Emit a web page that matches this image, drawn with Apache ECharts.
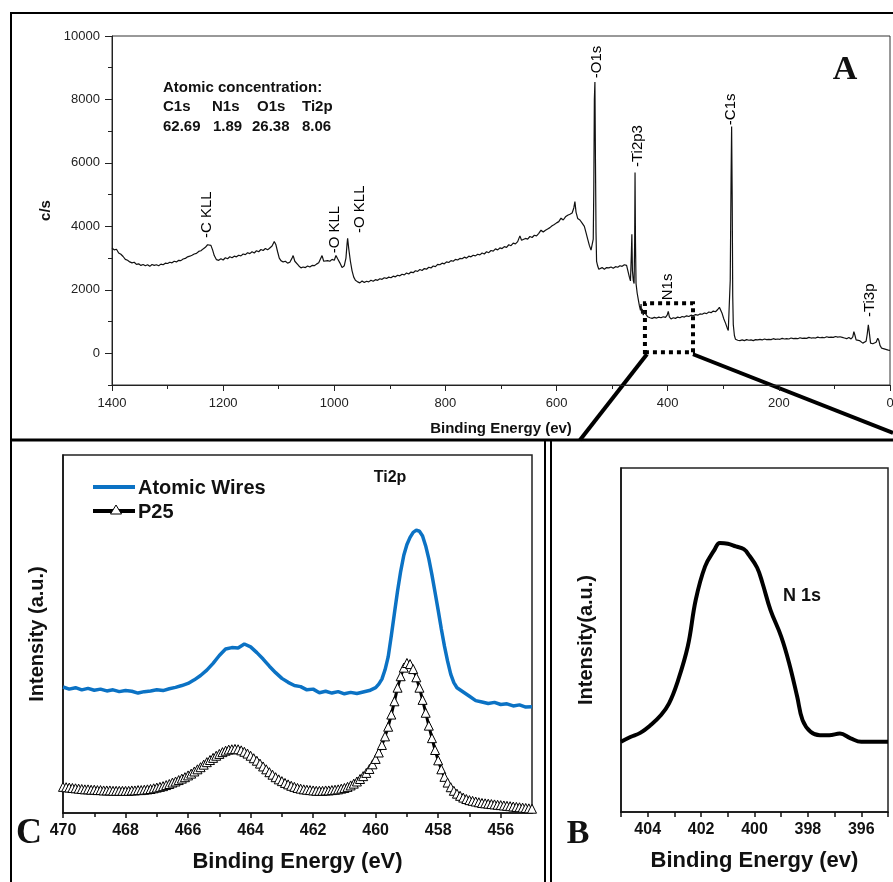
<!DOCTYPE html>
<html>
<head>
<meta charset="utf-8">
<script src="https://cdn.jsdelivr.net/npm/echarts@6/dist/echarts.min.js"></script>
<style>
	html, body { margin: 0; padding: 0; background: #fff; }
	#chart { width: 893px; height: 882px; }
</style>
</head>
<body>
<div id="chart"></div>
<script>
// survey spectrum (panel A) : [binding energy, c/s]
const surveyPoints = [
	[1400,3320],[1396,3260],[1392,3280],[1388,3160],[1384,3120],[1380,3050],[1376,2960],[1372,2930],[1368,2880],[1364,2850],
	[1360,2870],[1356,2800],[1352,2820],[1348,2770],[1344,2800],[1340,2760],[1336,2790],[1332,2740],[1328,2800],[1324,2770],
	[1320,2790],[1316,2760],[1312,2810],[1308,2790],[1304,2840],[1300,2830],[1296,2870],[1292,2850],[1288,2900],[1284,2880],
	[1280,2930],[1276,2920],[1272,2970],[1268,2990],[1264,3040],[1260,3060],[1256,3090],[1252,3130],[1248,3150],[1244,3210],
	[1240,3230],[1236,3290],[1232,3340],[1228,3420],[1225,3480],[1222,3400],[1219,3260],[1216,3080],[1212,2950],[1208,2930],
	[1204,2980],[1200,2940],[1196,3010],[1192,2980],[1188,3040],[1184,3010],[1180,3060],[1176,3040],[1172,3090],[1168,3070],
	[1164,3130],[1160,3110],[1156,3170],[1152,3140],[1148,3200],[1144,3160],[1140,3230],[1136,3200],[1132,3270],[1128,3240],
	[1124,3300],[1120,3260],[1116,3320],[1112,3380],[1108,3520],[1105,3420],[1102,3200],[1099,3000],[1096,2920],[1092,2880],
	[1088,2900],[1084,2840],[1080,2870],[1076,3000],[1074,3080],[1071,2900],[1068,2840],[1064,2760],[1060,2690],[1056,2720],
	[1052,2700],[1048,2750],[1044,2720],[1040,2770],[1036,2760],[1032,2810],[1028,2850],[1025,2830],[1022,3080],[1019,2900],
	[1016,2880],[1012,2920],[1008,2900],[1004,2960],[1000,2930],[997,3080],[994,2980],[990,2850],[986,2700],[982,2760],
	[979,3000],[977,3450],[976,3620],[974,3300],[971,2900],[968,2600],[965,2400],[962,2300],[958,2250],[954,2220],
	[950,2280],[946,2230],[942,2270],[938,2250],[934,2300],[930,2270],[926,2320],[922,2300],[918,2350],[914,2330],
	[910,2380],[906,2360],[902,2400],[898,2380],[894,2430],[890,2410],[886,2460],[882,2440],[878,2490],[874,2470],
	[870,2530],[866,2500],[862,2560],[858,2540],[854,2600],[850,2580],[846,2640],[842,2610],[838,2670],[834,2650],
	[830,2710],[826,2690],[822,2750],[818,2730],[814,2800],[810,2790],[806,2840],[802,2820],[798,2880],[794,2860],
	[790,2920],[786,2900],[782,2960],[778,2940],[774,2990],[770,2980],[766,3030],[762,3000],[758,3060],[754,3040],
	[750,3090],[746,3070],[742,3120],[738,3100],[734,3160],[730,3130],[726,3200],[722,3170],[718,3240],[714,3220],
	[710,3290],[706,3260],[702,3320],[698,3300],[694,3360],[690,3340],[686,3420],[682,3390],[678,3470],[674,3450],
	[670,3520],[666,3700],[663,3560],[660,3580],[656,3620],[652,3600],[648,3680],[644,3650],[640,3720],[636,3700],
	[632,3780],[628,3880],[624,3820],[620,3880],[616,3920],[612,3960],[608,4020],[604,4060],[600,4110],[596,4150],
	[592,4260],[588,4200],[584,4300],[580,4350],[576,4380],[572,4420],[569,4580],[567,4780],[565,4450],[562,4250],
	[558,4200],[554,4100],[550,4000],[547,3800],[544,3600],[541,3400],[538,3250],[536,3200],[534,3600],[533,5200],
	[532,8000],[531,8550],[530,6000],[529,3800],[528,2900],[526,2750],[524,2650],[522,2620],[518,2700],[514,2650],
	[510,2700],[506,2690],[502,2720],[498,2680],[494,2730],[490,2710],[486,2760],[482,2740],[478,2790],[474,2770],
	[471,2820],[469,2400],[467,2280],[465.5,3100],[464.5,3750],[463.5,2600],[462,2300],[460.5,2200],[459.5,3500],[458.8,5700],
	[458,3500],[457,2200],[455,1900],[453,1700],[451,1500],[449,1350],[448,1550],[447,1250],[446,1400],[444,1200],
	[442,1350],[440,1250],[436,1150],[432,1120],[428,1100],[424,1130],[420,1110],[416,1140],[412,1120],[408,1150],
	[404,1130],[401,1200],[399,1320],[397,1150],[394,1080],[390,1120],[386,1100],[382,1140],[378,1120],[374,1160],
	[370,1140],[366,1180],[362,1160],[358,1200],[354,1180],[350,1220],[346,1200],[342,1240],[338,1230],[334,1270],
	[330,1250],[326,1300],[322,1280],[318,1330],[314,1310],[310,1380],[307,1450],[305,1420],[302,1250],[299,1080],
	[296,950],[293,800],[291,720],[289,760],[287.5,2300],[286,5500],[285,7150],[284,5000],[283,1800],[282,900],
	[280,560],[278,440],[274,410],[270,400],[266,420],[262,400],[258,430],[254,410],[250,420],[246,400],
	[242,430],[238,420],[234,440],[230,420],[226,450],[222,430],[218,440],[214,430],[210,460],[206,440],
	[202,450],[198,440],[194,470],[190,450],[186,460],[182,450],[178,480],[174,460],[170,470],[166,460],
	[162,490],[158,470],[154,480],[150,470],[146,500],[142,480],[138,490],[134,480],[130,510],[126,490],
	[122,500],[118,490],[114,520],[110,500],[106,510],[102,500],[98,530],[94,510],[90,520],[86,500],
	[82,480],[78,460],[74,500],[70,450],[67,520],[65,680],[63,560],[61,420],[58,380],[55,400],
	[52,370],[49,320],[46,330],[43,380],[41,600],[39,900],[37,620],[35,320],[33,260],[31,300],
	[28,280],[25,350],[22,470],[20,400],[18,250],[15,160],[12,200],[9,130],[6,150],[3,100],[0,90]
];

// peak labels of panel A
const peakNames = ['-C KLL', '-O KLL', '-O KLL', '-O1s', '-Ti2p3', 'N1s', '-C1s', '-Ti3p'];
const peakBE = [1229, 999, 954, 527, 453, 400, 286, 36];
const peakCps = [3630, 3150, 3790, 8670, 5870, 1670, 7190, 1140];

// zoom box (panel A) : binding energy / c/s
const zoomBoxBE = [441, 354.5];
const zoomBoxCps = [32, 1577];

const surveyYLabels = [0, 2000, 4000, 6000, 8000, 10000];
const surveyYMinor = [-1000, 1000, 3000, 5000, 7000, 9000];

// Ti2p (panel C) : [binding energy, intensity]
const wiresPoints = [
	[470.0,35.2],[469.8,34.6],[469.6,35.0],[469.4,34.4],[469.2,34.8],[469.0,34.3],[468.8,34.6],[468.6,34.1],[468.4,34.4],[468.2,33.9],
	[468.0,34.2],[467.8,34.0],[467.6,33.5],[467.4,33.9],[467.2,34.1],[467.0,34.4],[466.8,34.2],[466.6,34.7],[466.4,35.1],[466.2,35.6],
	[466.0,36.2],[465.8,37.2],[465.6,38.4],[465.4,39.9],[465.2,41.8],[465.0,44.0],[464.8,45.8],[464.6,46.2],[464.4,46.1],[464.2,47.2],
	[464.0,46.4],[463.8,44.8],[463.6,43.0],[463.4,41.0],[463.2,39.2],[463.0,37.6],[462.8,36.5],[462.6,35.6],[462.4,35.3],[462.2,34.4],
	[462.0,34.6],[461.8,33.6],[461.6,34.0],[461.4,33.5],[461.2,33.9],[461.0,33.3],[460.8,33.7],[460.6,33.4],[460.4,33.8],[460.2,34.2],
	[460.0,35.0],[459.9,36.0],[459.8,37.4],[459.7,40.0],[459.6,43.6],[459.5,49.5],[459.4,55.8],[459.3,62.0],[459.2,67.5],[459.1,72.0],
	[459.0,75.0],[458.9,77.0],[458.8,78.4],[458.7,79.0],[458.6,78.7],[458.5,77.4],[458.4,74.6],[458.3,71.0],[458.2,66.5],[458.1,61.6],
	[458.0,56.6],[457.9,51.4],[457.8,46.6],[457.7,42.4],[457.6,38.8],[457.5,36.4],[457.4,35.0],[457.2,33.8],[457.0,32.6],[456.8,31.4],
	[456.6,31.0],[456.4,30.6],[456.2,30.9],[456.0,30.3],[455.8,30.5],[455.6,29.9],[455.4,30.2],[455.2,29.6],[455.0,29.7]
];
const p25Points = [
	[470.0,7.3],[469.9,7.2],[469.8,7.1],[469.7,7.0],[469.6,6.9],[469.5,6.8],[469.4,6.7],[469.3,6.6],[469.2,6.6],[469.1,6.5],
	[469.0,6.5],[468.9,6.4],[468.8,6.4],[468.7,6.3],[468.6,6.3],[468.5,6.3],[468.4,6.2],[468.3,6.2],[468.2,6.2],[468.1,6.2],
	[468.0,6.2],[467.9,6.2],[467.8,6.3],[467.7,6.3],[467.6,6.4],[467.5,6.4],[467.4,6.5],[467.3,6.6],[467.2,6.7],[467.1,6.9],
	[467.0,7.1],[466.9,7.3],[466.8,7.5],[466.7,7.8],[466.6,8.1],[466.5,8.5],[466.4,8.8],[466.3,9.2],[466.2,9.6],[466.1,10.0],
	[466.0,10.5],[465.9,11.0],[465.8,11.6],[465.7,12.2],[465.6,12.8],[465.5,13.5],[465.4,14.2],[465.3,14.8],[465.2,15.4],[465.1,16.0],
	[465.0,16.5],[464.9,17.0],[464.8,17.4],[464.7,17.7],[464.6,17.8],[464.5,17.9],[464.4,17.8],[464.3,17.5],[464.2,17.1],[464.1,16.6],
	[464.0,16.0],[463.9,15.3],[463.8,14.6],[463.7,13.8],[463.6,13.0],[463.5,12.2],[463.4,11.4],[463.3,10.7],[463.2,10.0],[463.1,9.4],
	[463.0,8.9],[462.9,8.4],[462.8,8.0],[462.7,7.6],[462.6,7.3],[462.5,7.0],[462.4,6.8],[462.3,6.6],[462.2,6.5],[462.1,6.4],
	[462.0,6.3],[461.9,6.2],[461.8,6.2],[461.7,6.2],[461.6,6.3],[461.5,6.3],[461.4,6.4],[461.3,6.5],[461.2,6.6],[461.1,6.8],
	[461.0,7.0],[460.9,7.3],[460.8,7.7],[460.7,8.2],[460.6,8.8],[460.5,9.5],[460.4,10.3],[460.3,11.2],[460.2,12.3],[460.1,13.6],
	[460.0,15.1],[459.9,16.9],[459.8,19.0],[459.7,21.4],[459.6,24.1],[459.5,27.5],[459.4,31.2],[459.3,35.0],[459.2,38.2],[459.1,40.6],
	[459.0,41.9],[458.9,41.6],[458.8,40.2],[458.7,37.9],[458.6,35.0],[458.5,31.6],[458.4,28.0],[458.3,24.4],[458.2,20.9],[458.1,17.6],
	[458.0,14.7],[457.9,12.2],[457.8,10.1],[457.7,8.5],[457.6,7.2],[457.5,6.2],[457.4,5.4],[457.3,4.8],[457.2,4.3],[457.1,3.9],
	[457.0,3.6],[456.9,3.4],[456.8,3.2],[456.7,3.0],[456.6,2.8],[456.5,2.7],[456.4,2.6],[456.3,2.5],[456.2,2.4],[456.1,2.3],
	[456.0,2.2],[455.9,2.1],[455.8,2.0],[455.7,1.9],[455.6,1.8],[455.5,1.7],[455.4,1.6],[455.3,1.5],[455.2,1.4],[455.1,1.3],
	[455.0,1.2]
];
const tiLabels = [456, 458, 460, 462, 464, 466, 468, 470];
const tiMinor = [457, 459, 461, 463, 465, 467, 469];

// N 1s (panel B) : [binding energy, intensity]
const n1sPoints = [
	[405.0,20.4],[404.65,21.8],[404.28,23.0],[403.9,25.2],[403.5,28.2],[403.2,31.6],[402.9,37.4],[402.5,48.1],[402.2,61.7],[401.85,71.4],
	[401.5,76.2],[401.3,78.2],[401.0,78.0],[400.7,77.2],[400.4,76.4],[400.2,74.6],[399.9,71.0],[399.7,66.5],[399.4,58.7],[399.0,51.0],
	[398.7,43.2],[398.4,33.5],[398.2,26.7],[397.9,23.3],[397.55,22.3],[397.2,22.3],[396.8,22.8],[396.4,21.4],[396.0,20.4],[395.6,20.4],
	[395.0,20.4]
];
const nLabels = [396, 398, 400, 402, 404];
const nTicks = [395, 396, 397, 398, 399, 400, 401, 402, 403, 404, 405];

const FONT = 'Liberation Sans, Arial, sans-serif';
const SERIF = 'Liberation Serif, Times New Roman, serif';
const WIRES_COLOR = '#0b72c4';

const chart = echarts.init(document.getElementById('chart'), null, { renderer: 'canvas' });

const hideAxis = { show: false };
const noLine = { show: false, onZero: false };
const plain = (v) => String(v);

function txt(x, y, text, font, align) {
	return {
		type: 'text', x: x, y: y,
		style: { text: text, font: font, fill: '#111', textAlign: align || 'left', align: align || 'left', textVerticalAlign: 'middle', verticalAlign: 'middle' },
	};
}

const option = {
	backgroundColor: '#fff',
	animation: false,
	textStyle: { fontFamily: FONT },
	grid: [
		{ left: 112, top: 36, width: 778, height: 349, show: true, borderColor: '#333', borderWidth: 1, outerBoundsMode: 'none' },
		{ left: 63, top: 455, width: 469, height: 358, show: true, borderColor: '#222', borderWidth: 1.5, outerBoundsMode: 'none' },
		{ left: 621, top: 468, width: 267, height: 344, show: true, borderColor: '#222', borderWidth: 1.5, outerBoundsMode: 'none' },
		// overlay on panel A, only carries the short y ticks
		{ left: 112, top: 36, width: 778, height: 349, show: false, outerBoundsMode: 'none' },
	],
	xAxis: [
		{
			gridIndex: 0, type: 'value', min: 0, max: 1400, interval: 200, inverse: true,
			axisLine: { onZero: false, lineStyle: { color: '#222', width: 1 } },
			axisTick: { length: 6, lineStyle: { color: '#222' } },
			minorTick: { show: true, splitNumber: 2, length: 4, lineStyle: { color: '#222' } },
			axisLabel: { fontSize: 13, color: '#222', margin: 12, formatter: plain },
			splitLine: hideAxis,
			name: 'Binding Energy (ev)', nameLocation: 'middle', nameGap: 36,
			nameTextStyle: { fontSize: 15, fontWeight: 'bold', color: '#111' },
		},
		{
			gridIndex: 1, type: 'value', min: 455, max: 470, inverse: true, position: 'bottom',
			axisLine: { onZero: false, lineStyle: { color: '#111', width: 1.5 } },
			axisTick: { length: 5, customValues: tiLabels, lineStyle: { color: '#111', width: 1.5 } },
			axisLabel: { customValues: tiLabels, fontSize: 16, fontWeight: 'bold', color: '#111', margin: 10, formatter: plain },
			splitLine: hideAxis,
			name: 'Binding Energy (eV)', nameLocation: 'middle', nameGap: 38,
			nameTextStyle: { fontSize: 22, fontWeight: 'bold', color: '#111' },
		},
		{
			gridIndex: 1, type: 'value', min: 455, max: 470, inverse: true, position: 'bottom',
			axisLine: noLine, axisLabel: hideAxis, splitLine: hideAxis,
			axisTick: { length: 4, customValues: tiMinor, lineStyle: { color: '#111', width: 1.5 } },
		},
		{
			gridIndex: 2, type: 'value', min: 395, max: 405, inverse: true,
			axisLine: { onZero: false, lineStyle: { color: '#111', width: 1.5 } },
			axisTick: { length: 5, customValues: nTicks, lineStyle: { color: '#111', width: 1.5 } },
			axisLabel: { customValues: nLabels, fontSize: 16, fontWeight: 'bold', color: '#111', margin: 10, formatter: plain },
			splitLine: hideAxis,
			name: 'Binding Energy (ev)', nameLocation: 'middle', nameGap: 38,
			nameTextStyle: { fontSize: 22, fontWeight: 'bold', color: '#111' },
		},
		{
			gridIndex: 3, type: 'value', min: 0, max: 1400, inverse: true, show: false,
		},
	],
	yAxis: [
		{
			gridIndex: 0, type: 'value', min: -1000, max: 10000,
			axisLine: { show: true, onZero: false, lineStyle: { color: '#222', width: 1 } },
			axisTick: { show: true, length: 7, customValues: surveyYLabels, lineStyle: { color: '#222' } },
			axisLabel: { customValues: surveyYLabels, fontSize: 13, color: '#222', margin: 12, formatter: plain },
			splitLine: hideAxis,
			name: 'c/s', nameLocation: 'middle', nameGap: 47,
			nameTextStyle: { fontSize: 15, fontWeight: 'bold', color: '#111' },
		},
		{
			gridIndex: 3, type: 'value', min: -1000, max: 10000, position: 'left',
			axisLine: noLine, axisLabel: hideAxis, splitLine: hideAxis,
			axisTick: { show: true, length: 4, customValues: surveyYMinor, lineStyle: { color: '#222' } },
		},
		{
			gridIndex: 1, type: 'value', min: 0, max: 100,
			axisLine: { show: true, onZero: false, lineStyle: { color: '#111', width: 1.5 } },
			axisTick: hideAxis, axisLabel: hideAxis, splitLine: hideAxis,
			name: 'Intensity (a.u.)', nameLocation: 'middle', nameGap: 16,
			nameTextStyle: { fontSize: 20, fontWeight: 'bold', color: '#111' },
		},
		{
			gridIndex: 2, type: 'value', min: 0, max: 100,
			axisLine: { show: true, onZero: false, lineStyle: { color: '#111', width: 1.5 } },
			axisTick: hideAxis, axisLabel: hideAxis, splitLine: hideAxis,
			name: 'Intensity(a.u.)', nameLocation: 'middle', nameGap: 25,
			nameTextStyle: { fontSize: 20, fontWeight: 'bold', color: '#111' },
		},
	],
	series: [
		{
			name: 'survey', type: 'line', xAxisIndex: 0, yAxisIndex: 0,
			data: surveyPoints, symbol: 'none',
			lineStyle: { color: '#111', width: 1.2 },
			markArea: {
				silent: true,
				itemStyle: { color: 'rgba(0,0,0,0)', borderColor: '#000', borderWidth: 4, borderType: [4, 4] },
				data: [[
					{ xAxis: zoomBoxBE[0], yAxis: zoomBoxCps[0] },
					{ xAxis: zoomBoxBE[1], yAxis: zoomBoxCps[1] },
				]],
			},
		},
		{
			name: 'Atomic Wires', type: 'line', xAxisIndex: 1, yAxisIndex: 2,
			data: wiresPoints, symbol: 'none',
			lineStyle: { color: WIRES_COLOR, width: 3.5 },
		},
		{
			name: 'P25', type: 'line', xAxisIndex: 1, yAxisIndex: 2,
			data: p25Points, symbol: 'triangle', symbolSize: 9, showAllSymbol: true,
			lineStyle: { color: '#000', width: 3 },
			itemStyle: { color: '#fff', borderColor: '#000', borderWidth: 1 },
		},
		{
			name: 'N 1s', type: 'line', xAxisIndex: 3, yAxisIndex: 3,
			data: n1sPoints, symbol: 'none', smooth: 0.4,
			lineStyle: { color: '#000', width: 4 },
		},
	],
	graphic: [
		// panel frames
		{ type: 'line', shape: { x1: 10, y1: 13, x2: 893, y2: 13 }, style: { stroke: '#000', lineWidth: 2 } },
		{ type: 'line', shape: { x1: 11, y1: 12, x2: 11, y2: 882 }, style: { stroke: '#000', lineWidth: 2 } },
		{ type: 'line', shape: { x1: 10, y1: 440, x2: 893, y2: 440 }, style: { stroke: '#000', lineWidth: 3 } },
		{ type: 'line', shape: { x1: 545, y1: 440, x2: 545, y2: 882 }, style: { stroke: '#000', lineWidth: 2 } },
		{ type: 'line', shape: { x1: 551, y1: 440, x2: 551, y2: 882 }, style: { stroke: '#000', lineWidth: 2 } },
		// panel letters
		txt(845, 70, 'A', 'bold 34px ' + SERIF, 'center'),
		txt(29, 834, 'C', 'bold 36px ' + SERIF, 'center'),
		txt(578, 834, 'B', 'bold 34px ' + SERIF, 'center'),
		// atomic concentration table
		txt(163, 88, 'Atomic concentration:', 'bold 15px ' + FONT),
		txt(163, 107, 'C1s', 'bold 15px ' + FONT),
		txt(212, 107, 'N1s', 'bold 15px ' + FONT),
		txt(257, 107, 'O1s', 'bold 15px ' + FONT),
		txt(302, 107, 'Ti2p', 'bold 15px ' + FONT),
		txt(163, 127, '62.69', 'bold 15px ' + FONT),
		txt(213, 127, '1.89', 'bold 15px ' + FONT),
		txt(252, 127, '26.38', 'bold 15px ' + FONT),
		txt(302, 127, '8.06', 'bold 15px ' + FONT),
		// panel titles
		txt(390, 478, 'Ti2p', 'bold 16px ' + FONT, 'center'),
		txt(802, 596, 'N 1s', 'bold 18px ' + FONT, 'center'),
		// legend of panel C
		{ type: 'line', shape: { x1: 93, y1: 487, x2: 135, y2: 487 }, style: { stroke: WIRES_COLOR, lineWidth: 4 } },
		txt(138, 488, 'Atomic Wires', 'bold 20px ' + FONT),
		{ type: 'line', shape: { x1: 93, y1: 511, x2: 135, y2: 511 }, style: { stroke: '#000', lineWidth: 4 } },
		{ type: 'polygon', shape: { points: [[116, 505], [121.5, 514], [110.5, 514]] }, style: { fill: '#fff', stroke: '#000', lineWidth: 1 } },
		txt(138, 512, 'P25', 'bold 20px ' + FONT),
	],
};

chart.setOption(option);

// peak labels and zoom connector lines placed from data coordinates
const extra = [];
peakNames.forEach((name, i) => {
	const p = chart.convertToPixel({ xAxisIndex: 0, yAxisIndex: 0 }, [peakBE[i], peakCps[i]]);
	extra.push({
		type: 'text', x: p[0], y: p[1], rotation: Math.PI / 2,
		style: { text: name, font: '15px ' + FONT, fill: '#000', textAlign: 'left', align: 'left', textVerticalAlign: 'middle', verticalAlign: 'middle' },
	});
});
const boxLeft = chart.convertToPixel({ xAxisIndex: 0, yAxisIndex: 0 }, [zoomBoxBE[0], zoomBoxCps[0]]);
const boxRight = chart.convertToPixel({ xAxisIndex: 0, yAxisIndex: 0 }, [zoomBoxBE[1], zoomBoxCps[0]]);
extra.push({ type: 'line', shape: { x1: boxLeft[0] + 2, y1: boxLeft[1] + 2, x2: 580, y2: 440 }, style: { stroke: '#000', lineWidth: 4 } });
extra.push({ type: 'line', shape: { x1: boxRight[0], y1: boxRight[1] + 2, x2: 893, y2: 433 }, style: { stroke: '#000', lineWidth: 4 } });

chart.setOption({ graphic: option.graphic.concat(extra) });
</script>
</body>
</html>
